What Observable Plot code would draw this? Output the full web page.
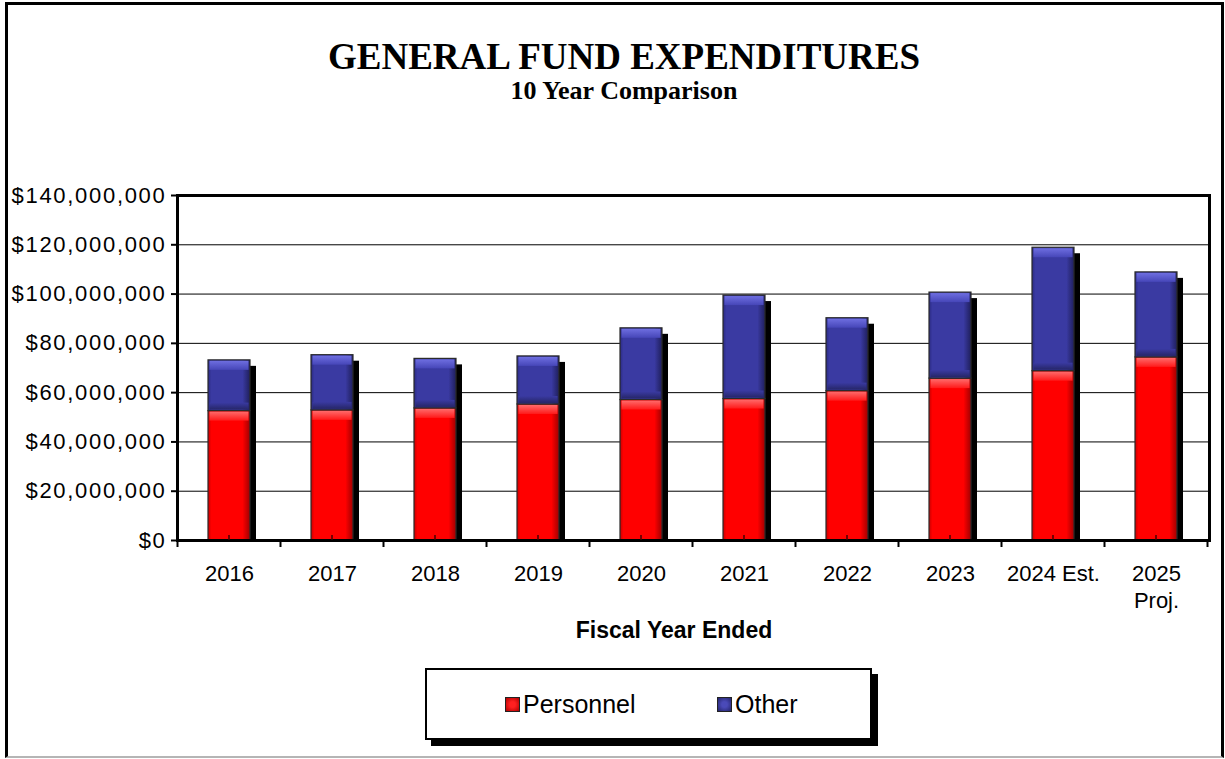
<!DOCTYPE html>
<html><head><meta charset="utf-8">
<script src="https://cdn.jsdelivr.net/npm/d3@7"></script>
<script src="https://cdn.jsdelivr.net/npm/@observablehq/plot@0.6"></script>
<style>
body{margin:0;background:#fff;}
#wrap{position:relative;width:1225px;height:759px;overflow:hidden;font-family:Arial,"Liberation Sans",sans-serif;background:#fff;}
#border{position:absolute;left:5px;top:2px;width:1219px;height:756px;box-sizing:border-box;border:3px solid #000;border-bottom:2px solid #b5b5b5;}
.title{position:absolute;left:0;width:1248px;text-align:center;font-family:"Liberation Serif","Times New Roman",serif;font-weight:bold;line-height:1;color:#000;white-space:nowrap;}
#t1{top:38px;font-size:37px;}
#t2{top:78px;font-size:26px;}
#chart{position:absolute;left:0;top:150px;}
#xlab{position:absolute;left:0;width:1348px;text-align:center;top:619px;font-size:23px;font-weight:bold;line-height:1;}
#legend{position:absolute;left:425px;top:668px;width:447px;height:72px;box-sizing:border-box;border:2px solid #000;background:#fff;box-shadow:6px 6px 0 #000;}
.item{position:absolute;top:20px;font-size:25px;line-height:28px;height:28px;white-space:nowrap;}
.sw{display:inline-block;width:13px;height:13px;border:1px solid #222;vertical-align:middle;margin-right:3px;position:relative;top:-2px;}
</style></head>
<body>
<div id="wrap">
  <div id="border"></div>
  <div class="title" id="t1">GENERAL FUND EXPENDITURES</div>
  <div class="title" id="t2">10 Year Comparison</div>
  <div id="chart"></div>
  <div id="xlab">Fiscal Year Ended</div>
  <div id="legend">
    <div class="item" style="left:78px;"><span class="sw" style="background:radial-gradient(circle,#ff2020 30%,#b00000 100%);"></span>Personnel</div>
    <div class="item" style="left:290px;"><span class="sw" style="background:radial-gradient(circle,#4a4ab8 30%,#23236a 100%);"></span>Other</div>
  </div>
</div>
<script>
const years = ["2016","2017","2018","2019","2020","2021","2022","2023","2024 Est.","2025\nProj."];
const personnel = [52500000, 52800000, 53600000, 55200000, 57000000, 57400000, 60600000, 65700000, 68700000, 74300000];
const other = [20600000, 22400000, 20100000, 19500000, 29100000, 42000000, 29600000, 34900000, 50100000, 34500000];
const yTicks = [0, 20000000, 40000000, 60000000, 80000000, 100000000, 120000000, 140000000];

const data = years.map((year, i) => ({year, personnel: personnel[i], total: personnel[i] + other[i]}));
const fmt = d => "$" + d3.format(",")(d);

const chart = Plot.plot({
  width: 1225,
  height: 500,
  marginTop: 45,
  marginBottom: 110,
  marginLeft: 177,
  marginRight: 16,
  style: {fontFamily: "Arial, 'Liberation Sans', sans-serif", color: "#000", background: "transparent", overflow: "visible"},
  x: {type: "band", domain: years, paddingInner: 0.59, paddingOuter: 0.295, label: null},
  y: {domain: [0, 140000000], label: null},
  marks: [
    Plot.gridY(yTicks, {stroke: "#000", strokeOpacity: 1, strokeWidth: 1}),
    Plot.barY(data, {x: "year", y1: 0, y2: "total", fill: "#000", dx: 6, dy: 6, insetBottom: 6}),
    Plot.barY(data, {x: "year", y1: 0, y2: "personnel", fill: "url(#gRed)", stroke: "#2a2a2a", strokeWidth: 1.2}),
    Plot.barY(data, {x: "year", y1: "personnel", y2: "total", fill: "url(#gBlue)", stroke: "#2a2a2a", strokeWidth: 1.2}),
    Plot.barY(data, {x: "year", y1: "total", y2: "total", insetBottom: -10, insetTop: 1, insetLeft: 1.5, insetRight: 1.5, fill: "url(#bBlue)"}),
    Plot.barY(data, {x: "year", y1: "personnel", y2: "personnel", insetTop: -8, insetBottom: 1, insetLeft: 1.5, insetRight: 1.5, fill: "url(#dBlue)"}),
    Plot.barY(data, {x: "year", y1: "personnel", y2: "personnel", insetBottom: -10, insetTop: 1, insetLeft: 1.5, insetRight: 1.5, fill: "url(#bRed)"}),
    Plot.frame({stroke: "#000", strokeWidth: 3}),
    Plot.axisY(yTicks, {tickSize: 6, tickPadding: 5, tickFormat: fmt, fontSize: 22, label: null, strokeWidth: 2}),
    Plot.axisX({tickSize: 0, tickPadding: 22, fontSize: 22, lineHeight: 1.2, label: null})
  ]
});

const svg = d3.select(chart);
svg.selectAll("[aria-label='y-axis tick label'] text, [aria-label='y-axis tick label']").style("letter-spacing", "1.7px");
const defs = svg.insert("defs", ":first-child");
function hgrad(id, stops) {
  const g = defs.append("linearGradient").attr("id", id).attr("x1", "0").attr("x2", "1").attr("y1", "0").attr("y2", "0");
  stops.forEach(([o, c]) => g.append("stop").attr("offset", o).attr("stop-color", c));
}
function vgrad(id, stops) {
  const g = defs.append("linearGradient").attr("id", id).attr("x1", "0").attr("x2", "0").attr("y1", "0").attr("y2", "1");
  stops.forEach(([o, c]) => g.append("stop").attr("offset", o).attr("stop-color", c));
}
hgrad("gRed", [[0, "#c80000"], [0.08, "#ff0000"], [0.82, "#ff0000"], [1, "#a00000"]]);
hgrad("gBlue", [[0, "#2a2a82"], [0.08, "#3a3aa2"], [0.82, "#3a3aa2"], [1, "#1f1f5c"]]);
vgrad("bRed", [[0, "#ff6a6a"], [1, "#ff1a1a"]]);
vgrad("bBlue", [[0, "#6e6ee0"], [1, "#4646b8"]]);
vgrad("dBlue", [[0, "#3a3aa2"], [1, "#262668"]]);

// category boundary ticks and center ticks, from the x scale
const xs = chart.scale("x");
const ys = chart.scale("y");
const y0 = ys.apply(0);
const step = xs.step, bw = xs.bandwidth;
const first = xs.apply(years[0]) - (step - bw) / 2;
const tg = svg.append("g").attr("stroke", "#000").attr("stroke-width", 2);
d3.range(years.length + 1).forEach(i => {
  const x = first + i * step;
  tg.append("line").attr("x1", x).attr("x2", x).attr("y1", y0).attr("y2", y0 + 7);
});
years.forEach(yv => {
  const x = xs.apply(yv) + bw / 2;
  tg.append("line").attr("x1", x).attr("x2", x).attr("y1", y0 - 5).attr("y2", y0).attr("stroke", "#400").attr("stroke-width", 1.5);
});

document.getElementById("chart").appendChild(chart);
</script>
</body></html>
